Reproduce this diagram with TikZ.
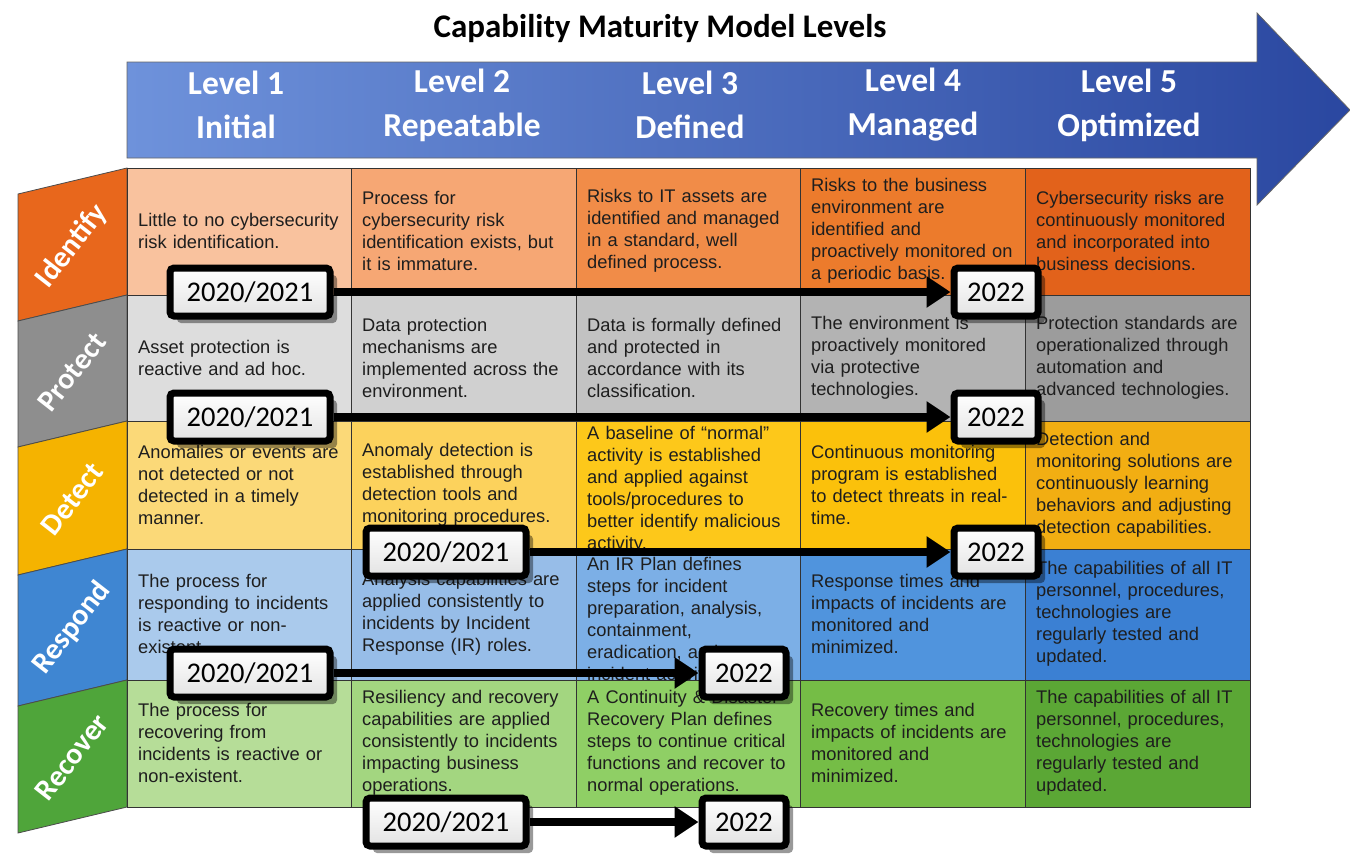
\documentclass[tikz,border=0pt]{standalone}
\usepackage{fontspec}
\setmainfont{Liberation Sans}
\newfontfamily\calfont{Carlito}
\usetikzlibrary{arrows.meta,shadows}
\definecolor{bannerL}{HTML}{6E92DB}
\definecolor{bannerR}{HTML}{2A47A0}
\definecolor{idA}{HTML}{F9C29E}\definecolor{idB}{HTML}{F6A774}\definecolor{idC}{HTML}{F18C48}\definecolor{idD}{HTML}{EC7B2C}\definecolor{idE}{HTML}{E2621B}
\definecolor{prA}{HTML}{DDDDDD}\definecolor{prB}{HTML}{D0D0D0}\definecolor{prC}{HTML}{C2C2C2}\definecolor{prD}{HTML}{B3B3B3}\definecolor{prE}{HTML}{9C9C9C}
\definecolor{deA}{HTML}{FBD978}\definecolor{deB}{HTML}{FCD25C}\definecolor{deC}{HTML}{FDC81A}\definecolor{deD}{HTML}{FBC10B}\definecolor{deE}{HTML}{F2AE12}
\definecolor{reA}{HTML}{AACAEC}\definecolor{reB}{HTML}{97BDE8}\definecolor{reC}{HTML}{7CAFE6}\definecolor{reD}{HTML}{5094DD}\definecolor{reE}{HTML}{3B80D3}
\definecolor{rcA}{HTML}{B6DD98}\definecolor{rcB}{HTML}{A3D680}\definecolor{rcC}{HTML}{8FCF65}\definecolor{rcD}{HTML}{75BD46}\definecolor{rcE}{HTML}{5BA735}
\definecolor{tabid}{HTML}{E8671C}\definecolor{tabpr}{HTML}{8E8E8E}\definecolor{tabde}{HTML}{F5B300}\definecolor{tabre}{HTML}{3F86D2}\definecolor{tabrc}{HTML}{4FA53A}
\definecolor{celltext}{HTML}{1E1E1E}
\pgfdeclarelayer{top}
\pgfsetlayers{main,top}
\begin{document}
\begin{tikzpicture}[x=1pt,y=-1pt,
  cell/.style={anchor=west,inner sep=0pt,text width=212pt,align=left,text=celltext,font=\fontsize{18.3}{22}\selectfont},
  levellab/.style={text=white,align=center,font=\calfont\bfseries\fontsize{33.5}{44}\selectfont},
  tablab/.style={text=white,rotate=52,font=\calfont\bfseries\fontsize{30}{33}\selectfont},
  tabshape/.style={draw=black!70,line width=0.8pt},
  gridline/.style={draw=black!80,line width=1pt},
  yearbox/.style={draw=black,line width=7pt,rounded corners=4pt,top color=white,bottom color=gray!22,inner sep=0pt,minimum height=48pt,font=\calfont\fontsize{28.5}{30}\selectfont,drop shadow={shadow xshift=7pt,shadow yshift=-7pt,opacity=.4,fill=black}},
  yearA/.style={yearbox,minimum width=160pt},
  yearB/.style={yearbox,minimum width=84pt},
  yeararrow/.style={draw=black,line width=8pt,-{Triangle[length=24pt,width=30pt]}}
]
\useasboundingbox (0,0) rectangle (1350,854);
% title
\node[font=\calfont\bfseries\fontsize{33}{35}\selectfont] (title) at (660,29) {Capability Maturity Model Levels};
% banner arrow
\shade[left color=bannerL,right color=bannerR,draw=black!60,line width=0.8pt]
  (127,62) -- (1257,62) -- (1257,13) -- (1350,110) -- (1257,205) -- (1257,158) -- (127,158) -- cycle;
\node[levellab] (lv1) at (236,105) {Level 1\\Initial};
\node[levellab] (lv2) at (462,105) {Level 2\\Repeatable};
\node[levellab] (lv3) at (690,105) {Level 3\\Defined};
\node[levellab] (lv4) at (913,105) {Level 4\\Managed};
\node[levellab] (lv5) at (1129,105) {Level 5\\Optimized};
% cells
\foreach \t/\b/\ca/\cb/\cc/\cd/\ce/\tc in {168/295/idA/idB/idC/idD/idE/tabid,295/421/prA/prB/prC/prD/prE/tabpr,421/549/deA/deB/deC/deD/deE/tabde,549/680/reA/reB/reC/reD/reE/tabre,680/807/rcA/rcB/rcC/rcD/rcE/tabrc}{
  \fill[\ca] (127,\t) rectangle (351,\b);
  \fill[\cb] (351,\t) rectangle (576,\b);
  \fill[\cc] (576,\t) rectangle (800,\b);
  \fill[\cd] (800,\t) rectangle (1025,\b);
  \fill[\ce] (1025,\t) rectangle (1250,\b);
  \filldraw[fill=\tc,tabshape] (127,\t) -- (127,\b) -- (18,\b+26) -- (18,\t+26) -- cycle;
}
\draw[gridline] (127,168) rectangle (1250,807);
\foreach \x in {351,576,800,1025} \draw[gridline] (\x,168) -- (\x,807);
\foreach \y in {295,421,549,680} \draw[gridline] (127,\y) -- (1250,\y);
% tab labels
\node[tablab] (tid) at (72,246) {Identify};
\node[tablab] (tpr) at (72,372) {Protect};
\node[tablab] (tde) at (72,499) {Detect};
\node[tablab] (tre) at (72,628) {Respond};
\node[tablab] (trc) at (72,757) {Recover};
% Identify texts
\node[cell] (c11) at (138,231) {Little to no cybersecurity\\risk identification.};
\node[cell] (c12) at (362,231) {Process for\\cybersecurity risk\\identification exists, but\\it is immature.};
\node[cell] (c13) at (587,231) {Risks to IT assets are\\identified and managed\\in a standard, well\\defined process.};
\node[cell] (c14) at (811,231) {Risks to the business\\environment are\\identified and\\proactively monitored on\\a periodic basis.};
\node[cell] (c15) at (1036,231) {Cybersecurity risks are\\continuously monitored\\and incorporated into\\business decisions.};
% Protect texts
\node[cell] (c21) at (138,358) {Asset protection is\\reactive and ad hoc.};
\node[cell] (c22) at (362,358) {Data protection\\mechanisms are\\implemented across the\\environment.};
\node[cell] (c23) at (587,358) {Data is formally defined\\and protected in\\accordance with its\\classification.};
\node[cell] (c24) at (811,358) {The environment is\\proactively monitored\\via protective\\technologies.};
\node[cell] (c25) at (1036,358) {Protection standards are\\operationalized through\\automation and\\advanced technologies.};
% Detect texts
\node[cell] (c31) at (138,485) {Anomalies or events are\\not detected or not\\detected in a timely\\manner.};
\node[cell] (c32) at (362,485) {Anomaly detection is\\established through\\detection tools and\\monitoring procedures.};
\node[cell] (c33) at (587,490) {A baseline of “normal”\\activity is established\\and applied against\\tools/procedures to\\better identify malicious\\activity.};
\node[cell] (c34) at (811,485) {Continuous monitoring\\program is established\\to detect threats in real-\\time.};
\node[cell] (c35) at (1036,485) {Detection and\\monitoring solutions are\\continuously learning\\behaviors and adjusting\\detection capabilities.};
% Respond texts
\node[cell] (c41) at (138,614) {The process for\\responding to incidents\\is reactive or non-\\existent.};
\node[cell] (c42) at (362,614) {Analysis capabilities are\\applied consistently to\\incidents by Incident\\Response (IR) roles.};
\node[cell] (c43) at (587,619) {An IR Plan defines\\steps for incident\\preparation, analysis,\\containment,\\eradication, and post-\\incident activities.};
\node[cell] (c44) at (811,614) {Response times and\\impacts of incidents are\\monitored and\\minimized.};
\node[cell] (c45) at (1036,614) {The capabilities of all IT\\personnel, procedures,\\technologies are\\regularly tested and\\updated.};
% Recover texts
\node[cell] (c51) at (138,743) {The process for\\recovering from\\incidents is reactive or\\non-existent.};
\node[cell] (c52) at (362,743) {Resiliency and recovery\\capabilities are applied\\consistently to incidents\\impacting business\\operations.};
\node[cell] (c53) at (587,743) {A Continuity \& Disaster\\Recovery Plan defines\\steps to continue critical\\functions and recover to\\normal operations.};
\node[cell] (c54) at (811,743) {Recovery times and\\impacts of incidents are\\monitored and\\minimized.};
\node[cell] (c55) at (1036,743) {The capabilities of all IT\\personnel, procedures,\\technologies are\\regularly tested and\\updated.};
% year boxes
\begin{pgfonlayer}{top}
\node[yearA] (a1) at (250,292) {2020/2021};
\node[yearB] (b1) at (996,292) {2022};
\node[yearA] (a2) at (250,417) {2020/2021};
\node[yearB] (b2) at (996,417) {2022};
\node[yearA] (a3) at (446,552) {2020/2021};
\node[yearB] (b3) at (996,552) {2022};
\node[yearA] (a4) at (250,673) {2020/2021};
\node[yearB] (b4) at (744,673) {2022};
\node[yearA] (a5) at (446,822) {2020/2021};
\node[yearB] (b5) at (744,822) {2022};
\end{pgfonlayer}
% arrows
\foreach \i in {1,...,5} \draw[yeararrow] (a\i.east) -- (b\i.west);
\end{tikzpicture}
\end{document}
